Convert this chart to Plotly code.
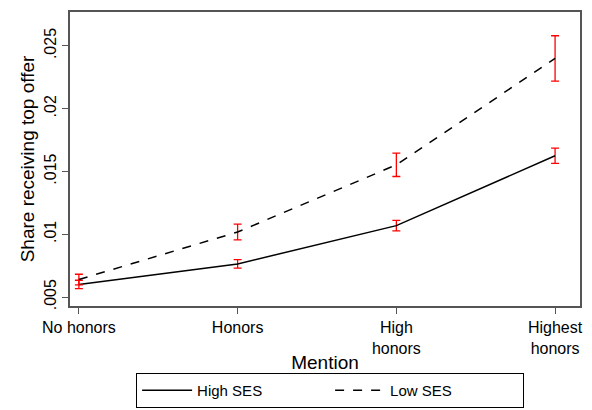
import plotly.graph_objects as go

categories = ["No honors", "Honors", "High<br>honors", "Highest<br>honors"]
high_ses = [0.00601, 0.00764, 0.01069, 0.01625]
high_ses_err = [0.00033, 0.00034, 0.00042, 0.00061]
low_ses = [0.0064, 0.01018, 0.01553, 0.0240]
low_ses_err = [0.00042, 0.00063, 0.00093, 0.00181]
y_ticks = [0.005, 0.01, 0.015, 0.02, 0.025]
y_tick_labels = [".005", ".01", ".015", ".02", ".025"]

xs = list(range(len(categories)))
fig = go.Figure()

fig.add_trace(go.Scatter(
    x=xs, y=high_ses, mode="lines", name="High SES",
    line=dict(color="black", width=1.5),
    error_y=dict(type="data", array=high_ses_err, color="red", thickness=1.3, width=4)))
fig.add_trace(go.Scatter(
    x=xs, y=low_ses, mode="lines", name="Low SES",
    line=dict(color="black", width=1.5, dash="dash"),
    error_y=dict(type="data", array=low_ses_err, color="red", thickness=1.3, width=4)))

font = dict(family="Liberation Sans, Arial", size=16, color="black")
fig.update_layout(
    width=592, height=410,
    margin=dict(l=62, r=20, t=4, b=112, autoexpand=False),
    plot_bgcolor="white", paper_bgcolor="white",
    font=font,
    xaxis=dict(
        tickvals=xs, ticktext=categories, range=[-0.056, 3.157],
        showline=True, mirror=True, linecolor="#555", linewidth=1.5,
        ticks="outside", ticklen=6, tickcolor="#555", showgrid=False, zeroline=False,
        title=dict(text="Mention", standoff=0)),
    yaxis=dict(
        tickvals=y_ticks, ticktext=y_tick_labels, range=[0.00429, 0.0277],
        tickangle=-90,
        showline=True, mirror=True, linecolor="#555", linewidth=1.5,
        ticks="outside", ticklen=6, tickcolor="#555", showgrid=False, zeroline=False,
        title=dict(text="Share receiving top offer", standoff=2)),
    legend=dict(
        orientation="h", x=0.51, xanchor="center", y=-0.228, yanchor="top",
        bordercolor="black", borderwidth=1, font=dict(family=font["family"], size=15, color="black"),
        itemwidth=50, entrywidth=128, tracegroupgap=0),
)

fig.write_html("out.html")
